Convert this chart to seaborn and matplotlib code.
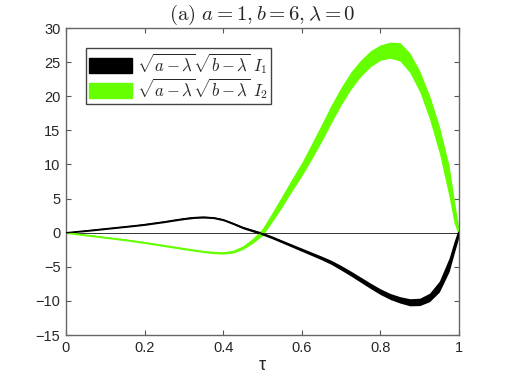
import matplotlib
matplotlib.use("Agg")
import matplotlib.pyplot as plt
from matplotlib.patches import Patch
import numpy as np
import pandas as pd
import seaborn as sns

# values (band = centre +- half width)
tau = [0, 0.025, 0.05, 0.075, 0.1, 0.125, 0.15, 0.175, 0.2, 0.225, 0.25, 0.275, 0.3, 0.325,
       0.35, 0.375, 0.4, 0.425, 0.45, 0.475, 0.5, 0.525, 0.55, 0.575, 0.6, 0.625, 0.65, 0.675,
       0.7, 0.725, 0.75, 0.775, 0.8, 0.825, 0.85, 0.875, 0.9, 0.925, 0.95, 0.975, 0.9875, 1.0]
I1 = [0, 0.14, 0.28, 0.43, 0.58, 0.73, 0.88, 1.03, 1.2, 1.4, 1.6, 1.83, 2.05, 2.22,
      2.28, 2.2, 1.9, 1.35, 0.75, 0.3, -0.15, -0.7, -1.3, -1.9, -2.5, -3.1, -3.7, -4.35,
      -5.15, -6.0, -6.9, -7.8, -8.65, -9.35, -9.85, -10.2, -10.15, -9.5, -7.9, -4.7, -2.2, 0.1]
I1_hw = [0.08, 0.1, 0.12, 0.12, 0.12, 0.12, 0.12, 0.12, 0.13, 0.13, 0.13, 0.13, 0.14, 0.14,
         0.14, 0.14, 0.15, 0.16, 0.17, 0.18, 0.2, 0.2, 0.21, 0.22, 0.24, 0.25, 0.27, 0.3,
         0.34, 0.36, 0.38, 0.4, 0.42, 0.44, 0.47, 0.52, 0.54, 0.62, 0.8, 1.0, 0.9, 0.7]
I2 = [0, -0.17, -0.35, -0.52, -0.7, -0.87, -1.05, -1.25, -1.45, -1.67, -1.9, -2.12, -2.35, -2.57,
      -2.77, -2.92, -2.97, -2.8, -2.2, -1.2, 0.1, 2.3, 4.6, 7.0, 9.3, 11.9, 14.6, 17.4,
      20.0, 22.3, 24.1, 25.5, 26.4, 26.75, 26.5, 24.9, 22.2, 18.4, 13.65, 7.5, 3.2, 0]
I2_hw = [0.1, 0.12, 0.13, 0.13, 0.13, 0.13, 0.14, 0.14, 0.14, 0.14, 0.15, 0.15, 0.15, 0.15,
         0.15, 0.16, 0.16, 0.2, 0.26, 0.36, 0.54, 0.69, 0.83, 0.91, 1.0, 1.15, 1.27, 1.33,
         1.3, 1.28, 1.2, 1.18, 1.13, 1.18, 1.35, 1.45, 1.55, 1.75, 2.0, 2.3, 1.8, 0.5]

labels = [r"$\sqrt{a-\lambda}\sqrt{b-\lambda}\ I_1\ $", r"$\sqrt{a-\lambda}\sqrt{b-\lambda}\ I_2\ $"]
colors = ["black", "#66ff00"]
xticks = [0, 0.2, 0.4, 0.6, 0.8, 1]
yticks = [-15, -10, -5, 0, 5, 10, 15, 20, 25, 30]

sns.set_style("ticks")
plt.rcParams["font.family"] = ["Liberation Sans", "DejaVu Sans"]
plt.rcParams["mathtext.fontset"] = "cm"

df = pd.DataFrame({"tau": tau, "I1": I1, "I2": I2,
                   "I1_hw": I1_hw, "I2_hw": I2_hw})

fig = plt.figure(figsize=(5.06, 3.81), dpi=100)
ax = fig.add_axes([0.1304, 0.1207, 0.7767, 0.8058])

# green first, black on top
for col, c in [("I2", colors[1]), ("I1", colors[0])]:
    ax.fill_between(df["tau"], df[col] - df[col + "_hw"], df[col] + df[col + "_hw"],
                    color=c, lw=0, zorder=2)
    sns.lineplot(data=df, x="tau", y=col, color=c, lw=0.9, ax=ax, zorder=3)

ax.axhline(0, color="#333333", lw=0.7, zorder=1)

ax.set_xlim(0, 1)
ax.set_ylim(-15, 30)
ax.set_xticks(xticks)
ax.set_xticklabels([f"{t:g}" for t in xticks])
ax.set_yticks(yticks)
ax.set_yticklabels([f"{t:d}".replace("-", "\u2212") for t in yticks])
ax.tick_params(direction="in", length=3.5, width=0.8, top=True, right=True,
               labelsize=10.5, color="#555555", pad=4)
for s in ax.spines.values():
    s.set_color("#666666")
    s.set_linewidth(1.0)

ax.set_xlabel("τ", fontsize=13, labelpad=2)
ax.set_ylabel("")
ax.set_title(r"$\mathrm{(a)}\ a=1, b=6, \lambda=0$", fontsize=15, pad=6)

handles = [Patch(facecolor=colors[0], edgecolor=colors[0]),
           Patch(facecolor=colors[1], edgecolor=colors[1])]
leg = ax.legend(handles, labels, loc="upper left", bbox_to_anchor=(0.051, 0.935),
                fontsize=12, handlelength=2.55, handleheight=1.05, handletextpad=0.3,
                labelspacing=0.0, borderpad=0.2, borderaxespad=0,
                fancybox=False, framealpha=1, edgecolor="#444444")
leg.get_frame().set_linewidth(1.0)

fig.savefig("out.png", dpi=100)
